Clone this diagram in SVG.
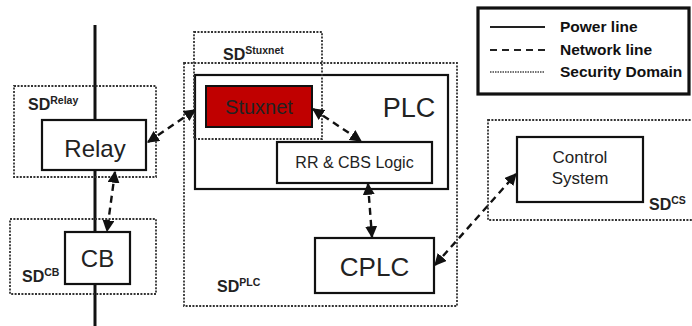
<svg xmlns="http://www.w3.org/2000/svg" width="692" height="326" viewBox="0 0 692 326">
  <style>
    .box { fill: #fff; stroke: #111; stroke-width: 2.2; }
    .sd { fill: none; stroke: #333; stroke-width: 1.8; stroke-dasharray: 2 1.4; }
    .power { stroke: #111; stroke-width: 3; fill: none; }
    .net { stroke: #111; stroke-width: 2.4; stroke-dasharray: 7 5; fill: none; marker-start: url(#ah); marker-end: url(#ah); }
    .lbl { font-family: "Liberation Sans", Arial, sans-serif; fill: #222; text-anchor: middle; }
    .sdl { font-family: "Liberation Sans", Arial, sans-serif; font-weight: bold; fill: #222; font-size: 16px; }
    .sup { font-size: 10.5px; }
    .leg { font-family: "Liberation Sans", Arial, sans-serif; font-weight: bold; fill: #111; font-size: 15.5px; }
  </style>
  <defs>
    <marker id="ah" viewBox="0 0 10 10" refX="9" refY="5" markerWidth="5" markerHeight="5" orient="auto-start-reverse" markerUnits="strokeWidth">
      <path d="M0,0 L10,5 L0,10 z" fill="#111"/>
    </marker>
  </defs>
  <rect width="692" height="326" fill="#fff"/>

  <!-- power line through relay and circuit breaker -->
  <g id="power-line">
    <line class="power" x1="95" y1="25" x2="95" y2="120"/>
    <line class="power" x1="95" y1="170" x2="95" y2="232"/>
    <line class="power" x1="95" y1="284" x2="95" y2="326"/>
  </g>

  <!-- security domains -->
  <g id="sd-relay">
    <rect class="sd" x="14" y="86" width="142" height="91"/>
    <text class="sdl" x="28" y="110">SD<tspan class="sup" dy="-6">Relay</tspan></text>
  </g>
  <g id="sd-cb">
    <rect class="sd" x="10" y="219" width="146" height="75"/>
    <text class="sdl" x="22" y="282">SD<tspan class="sup" dy="-6">CB</tspan></text>
  </g>
  <g id="sd-plc">
    <rect class="sd" x="184" y="63" width="273" height="243"/>
    <text class="sdl" x="217" y="292">SD<tspan class="sup" dy="-6">PLC</tspan></text>
  </g>
  <g id="sd-cs">
    <rect class="sd" x="488" y="120" width="210" height="100"/>
    <text class="sdl" x="649" y="210">SD<tspan class="sup" dy="-6">CS</tspan></text>
  </g>

  <!-- PLC container -->
  <g id="plc">
    <rect class="box" x="195" y="75" width="253" height="114" stroke-width="2.6"/>
    <text class="lbl" x="409" y="117" font-size="27">PLC</text>
  </g>

  <g id="sd-stuxnet">
    <rect class="sd" x="194" y="32" width="128" height="107"/>
    <text class="sdl" x="223" y="60">SD<tspan class="sup" dy="-6">Stuxnet</tspan></text>
  </g>

  <!-- nodes -->
  <g id="relay">
    <rect class="box" x="42" y="120" width="104" height="50"/>
    <text class="lbl" x="95" y="157" font-size="24">Relay</text>
  </g>
  <g id="cb">
    <rect class="box" x="65" y="232" width="65" height="52"/>
    <text class="lbl" x="97.5" y="267" font-size="24">CB</text>
  </g>
  <g id="stuxnet">
    <rect x="206" y="86" width="106" height="41" fill="#c00000" stroke="#111" stroke-width="2"/>
    <text class="lbl" x="259" y="114" font-size="20" fill="#2a0000">Stuxnet</text>
  </g>
  <g id="rr-cbs-logic">
    <rect class="box" x="277" y="142" width="155" height="41"/>
    <text class="lbl" x="354.5" y="168" font-size="16" fill="#333">RR &amp; CBS Logic</text>
  </g>
  <g id="cplc">
    <rect class="box" x="315" y="238" width="119" height="55"/>
    <text class="lbl" x="374.5" y="276" font-size="26">CPLC</text>
  </g>
  <g id="control-system">
    <rect class="box" x="517" y="137" width="126" height="65"/>
    <text class="lbl" x="580" y="163" font-size="17" fill="#444">Control</text>
    <text class="lbl" x="580" y="184" font-size="17" fill="#444">System</text>
  </g>

  <!-- network connections -->
  <g id="connectors">
    <line class="net" x1="148" y1="142" x2="195" y2="110"/>
    <line class="net" x1="115" y1="172" x2="107" y2="231"/>
    <line class="net" x1="313" y1="109" x2="361" y2="141"/>
    <line class="net" x1="368" y1="184" x2="372" y2="237"/>
    <line class="net" x1="435" y1="265" x2="516" y2="174"/>
  </g>

  <!-- legend -->
  <g id="legend">
    <rect x="478" y="8" width="211" height="86" fill="#fff" stroke="#111" stroke-width="3.2"/>
    <line x1="490" y1="27" x2="545" y2="27" stroke="#222" stroke-width="2"/>
    <line x1="490" y1="50" x2="545" y2="50" stroke="#222" stroke-width="2" stroke-dasharray="7 5"/>
    <line x1="490" y1="72" x2="545" y2="72" stroke="#444" stroke-width="1.4" stroke-dasharray="1.5 1"/>
    <text class="leg" x="560" y="32">Power line</text>
    <text class="leg" x="560" y="55">Network line</text>
    <text class="leg" x="560" y="77">Security Domain</text>
  </g>
</svg>
